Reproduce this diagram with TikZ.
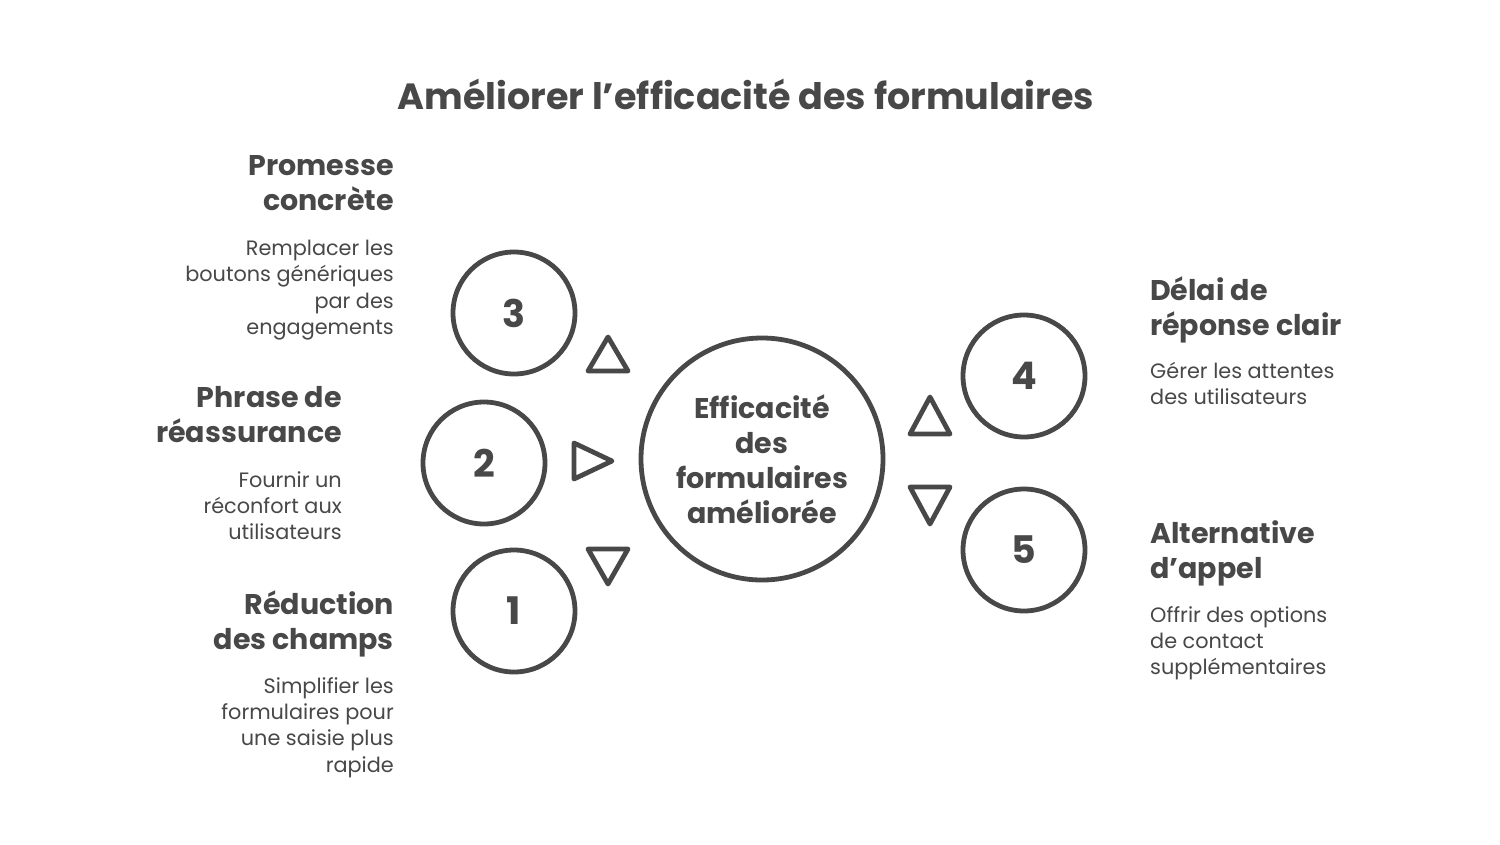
\documentclass[tikz,border=0pt]{standalone}
\usepackage{fontspec}
\setmainfont{Poppins}
\usetikzlibrary{positioning}
\definecolor{ink}{HTML}{484848}
\newcommand{\apos}{{\char"0027}}
\begin{document}
\begin{tikzpicture}[x=1pt,y=-1pt,
  every node/.style={text=ink},
  ring/.style={circle,draw=ink,line width=4.8pt,inner sep=0pt},
  tri/.style={draw=ink,line width=4.8pt,line join=round},
  numtxt/.style={font=\fontsize{38}{40}\selectfont\bfseries},
  headR/.style={anchor=north east,align=right,inner sep=0pt,font=\fontsize{28.5}{35}\selectfont\bfseries},
  headL/.style={anchor=north west,align=left,inner sep=0pt,font=\fontsize{28.5}{35}\selectfont\bfseries},
  descR/.style={anchor=north east,align=right,inner sep=0pt,font=\fontsize{20.8}{26.3}\selectfont},
  descL/.style={anchor=north west,align=left,inner sep=0pt,font=\fontsize{20.8}{26.3}\selectfont}]
\useasboundingbox (0,0) rectangle (1500,844);
\fill[white] (0,0) rectangle (1500,844);
% title
\node[font=\fontsize{36.5}{40}\selectfont\bfseries] (title) at (746,94) {Améliorer l\apos efficacité des formulaires};
% central circle
\node[ring,minimum size=242pt,align=center,font=\fontsize{28.5}{35}\selectfont\bfseries] (c) at (762,459) {Efficacité\\des\\formulaires\\améliorée};
% numbered circles
\node[ring,minimum size=122pt,numtxt] (n3) at (514,313) {3};
\node[ring,minimum size=122pt,numtxt] (n2) at (484,463) {2};
\node[ring,minimum size=122pt,numtxt] (n1) at (514,611) {1};
\node[ring,minimum size=122pt,numtxt] (n4) at (1024,376) {4};
\node[ring,minimum size=122pt,numtxt] (n5) at (1024,550) {5};
% triangles
\coordinate (t3) at (608,354);
\coordinate (t2) at (593,461);
\coordinate (t1) at (608,566);
\coordinate (t4) at (930,416);
\coordinate (t5) at (930,505);
\draw[tri] ([shift={(0,-17)}]t3) -- ([shift={(20,17)}]t3) -- ([shift={(-20,17)}]t3) -- cycle;
\draw[tri] ([shift={(19,0)}]t2) -- ([shift={(-19,18)}]t2) -- ([shift={(-19,-18)}]t2) -- cycle;
\draw[tri] ([shift={(0,18)}]t1) -- ([shift={(-20,-17)}]t1) -- ([shift={(20,-17)}]t1) -- cycle;
\draw[tri] ([shift={(0,-19)}]t4) -- ([shift={(20,18)}]t4) -- ([shift={(-20,18)}]t4) -- cycle;
\draw[tri] ([shift={(0,19)}]t5) -- ([shift={(-20,-18)}]t5) -- ([shift={(20,-18)}]t5) -- cycle;
% left texts
\node[headR] (h3) at (394,155) {Promesse\\concrète};
\node[descR] (d3) at (394,240) {Remplacer les\\boutons génériques\\par des\\engagements};
\node[headR] (h2) at (342,386) {Phrase de\\réassurance};
\node[descR] (d2) at (342,471) {Fournir un\\réconfort aux\\utilisateurs};
\node[headR] (h1) at (394,591) {Réduction\\des champs};
\node[descR] (d1) at (394,677) {Simplifier les\\formulaires pour\\une saisie plus\\rapide};
% right texts
\node[headL] (h4) at (1150,277) {Délai de\\réponse clair};
\node[descL] (d4) at (1150,362) {Gérer les attentes\\des utilisateurs};
\node[headL] (h5) at (1150,520) {Alternative\\d\apos appel};
\node[descL] (d5) at (1150,606) {Offrir des options\\de contact\\supplémentaires};
\end{tikzpicture}
\end{document}
